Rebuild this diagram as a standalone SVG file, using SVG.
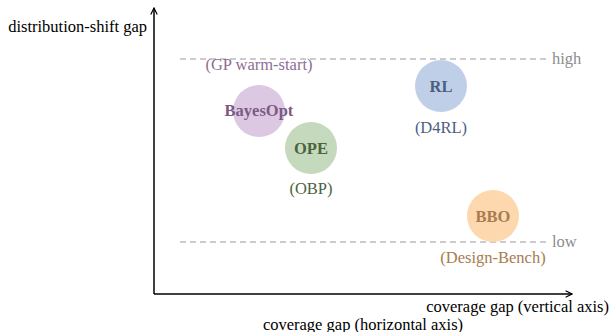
<svg xmlns="http://www.w3.org/2000/svg" width="613" height="332" viewBox="0 0 613 332">
<style>
text{font-family:"Liberation Serif","Times New Roman",serif;font-size:16.5px}
.dash{stroke:#999;stroke-width:1;stroke-dasharray:6 4;fill:none}
.gray{fill:#8c8c8c}
.b{font-weight:bold;text-anchor:middle}
.m{text-anchor:middle}
.axis{stroke:#000;stroke-width:1.5;fill:none}
</style>
<defs>
<marker id="ar" viewBox="0 0 10 10" refX="9" refY="5" markerWidth="8" markerHeight="8" markerUnits="userSpaceOnUse" orient="auto">
<path d="M1,1 L9,5 L1,9" fill="none" stroke="#000" stroke-width="1.5"/>
</marker>
</defs>
<rect width="613" height="332" fill="#fff"/>
<g id="guides">
<line class="dash" x1="180" y1="59" x2="546" y2="59"/>
<text class="gray" x="552" y="64">high</text>
<line class="dash" x1="180" y1="242" x2="546" y2="242"/>
<text class="gray" x="552" y="247">low</text>
</g>
<g id="connectors">
<line class="axis" x1="154" y1="294" x2="154" y2="8" marker-end="url(#ar)"/>
<line class="axis" x1="154" y1="294" x2="572" y2="294" marker-end="url(#ar)"/>
</g>
<text x="147" y="32" text-anchor="end">distribution-shift gap</text>
<text x="609" y="312" text-anchor="end">coverage gap (vertical axis)</text>
<text x="363" y="330" class="m">coverage gap (horizontal axis)</text>
<g id="bayesopt">
<text x="259" y="70" class="m" fill="#8c6e94">(GP warm-start)</text>
<circle cx="259" cy="111" r="26" fill="#dcc8e2"/>
<text x="259" y="116" class="b" fill="#7b5a84">BayesOpt</text>
</g>
<g id="ope">
<circle cx="311" cy="148" r="26" fill="#c5d9bc"/>
<text x="311" y="154" class="b" fill="#4a6440">OPE</text>
<text x="311" y="194" class="m" fill="#4a6440">(OBP)</text>
</g>
<g id="rl">
<circle cx="441" cy="86" r="26" fill="#c0cfe8"/>
<text x="441" y="92" class="b" fill="#4c5f7e">RL</text>
<text x="441" y="133" class="m" fill="#4c5f7e">(D4RL)</text>
</g>
<g id="bbo">
<circle cx="493" cy="216" r="26" fill="#fdd8ae"/>
<text x="493" y="222" class="b" fill="#a87c50">BBO</text>
<text x="493" y="263" class="m" fill="#a87c50">(Design-Bench)</text>
</g>
</svg>
